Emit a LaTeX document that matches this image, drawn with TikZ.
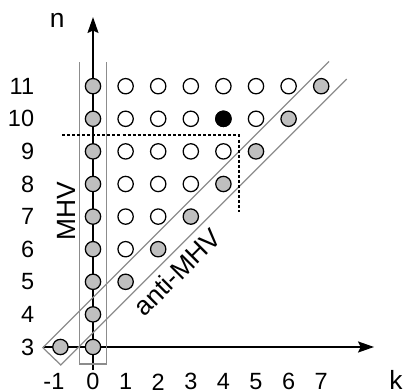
\documentclass[tikz,border=0pt]{standalone}
\usepackage{fontspec}
\setmainfont{Liberation Sans}
\usetikzlibrary{arrows.meta}

\begin{document}
\begin{tikzpicture}[dot/.style={draw,circle,line width=1.1pt,minimum size=4.7mm,inner sep=0pt,fill=white},amp/.style={dot,fill=black!25},band/.style={draw=black!45,line width=1.1pt},axis/.style={draw=black,line width=1.1pt,-{Stealth[length=4.9mm,width=3.4mm,inset=0.8mm]}},cut/.style={draw=black,line width=1.1pt,dash pattern=on 2.6pt off 1.8pt},num/.style={font=\fontsize{20.5}{24}\selectfont,inner sep=0pt},lbl/.style={font=\fontsize{23}{27}\selectfont,inner sep=0pt}]
  \useasboundingbox (-2.853,1.620) rectangle (9.509,13.644);

  \coordinate (kstart) at (-1.53,3);
  \coordinate (kend) at (8.62,3);
  \coordinate (nstart) at (0,2.3);
  \coordinate (nend) at (0,13.12);
  \draw[axis] (kstart) -- (kend);
  \draw[axis] (nstart) -- (nend);

  \draw[band] (-0.42,11.74) |- (0.42,2.48) -- (0.42,11.74);
  \draw[band] (7.24,11.76) -- (-1.54,2.98) -- (-0.99,2.45) -- (7.78,11.22);

  \draw[cut] (-0.95,9.5) -| (4.48,7.14);

  \foreach \n in {3,...,11}
    \node[amp] (m\n) at (0,\n) {};
  \foreach \k in {-1,1,2,3,4,5,6,7}
    \node[amp] (a\k) at (\k,\k+4) {};
  \foreach \n in {6,...,11} {
    \pgfmathtruncatemacro\last{\n-5}
    \foreach \k in {1,...,\last}
      \node[dot] (w\k-\n) at (\k,\n) {};
  }
  \node[dot,fill=black] (p) at (4,10) {};

  \foreach \n in {3,...,11}
    \node[num,anchor=east] (n\n) at (-1.8,\n) {\n};
  \node[num] (km1) at (-1.2,1.93) {-1};
  \foreach \k in {0,...,7}
    \node[num] (k\k) at (\k,1.93) {\k};

  \node[lbl] (nlab) at (-1.10,13.03) {n};
  \node[lbl] (klab) at (9.29,1.98) {k};
  \node[lbl,rotate=90] (mhv) at (-0.80,7.17) {MHV};
  \node[lbl,rotate=45] (anti) at (2.58,5.30) {anti-MHV};
\end{tikzpicture}
\end{document}
